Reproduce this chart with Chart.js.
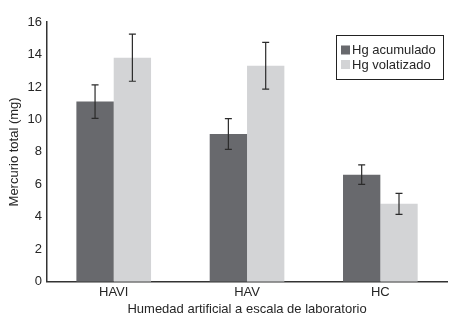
<!DOCTYPE html>
<html lang="es">
<head>
    <meta charset="UTF-8">
    <title>Mercurio total</title>
    <script src="https://cdn.jsdelivr.net/npm/chart.js"></script>
    <style>
        body {
            margin: 0;
            padding: 0;
            background: #fff;
        }
        #chart {
            display: block;
        }
    </style>
</head>
<body>
    <canvas id="chart" width="472" height="321"></canvas>
    <script>
        // data
        const categories = ['HAVI', 'HAV', 'HC'];
        const seriesNames = ['Hg acumulado', 'Hg volatizado'];
        const acumulado = [11.1, 9.1, 6.6];
        const acumuladoErr = [1.03, 0.95, 0.6];
        const volatizado = [13.8, 13.3, 4.8];
        const volatizadoErr = [1.45, 1.44, 0.65];
        const yTicks = [0, 2, 4, 6, 8, 10, 12, 14, 16];

        const textColor = '#262626';
        const fontFamily = '"Liberation Sans", Arial, sans-serif';

        // error bars drawn from the bar elements and y scale
        const errorBars = {
            id: 'errorBars',
            afterDatasetsDraw(chart) {
                const ctx = chart.ctx;
                const y = chart.scales.y;
                ctx.save();
                ctx.strokeStyle = '#2b2b2b';
                ctx.lineWidth = 1.2;
                chart.data.datasets.forEach((ds, i) => {
                    const meta = chart.getDatasetMeta(i);
                    meta.data.forEach((bar, j) => {
                        const v = ds.data[j], e = ds.errors[j];
                        const top = y.getPixelForValue(v + e);
                        const bottom = y.getPixelForValue(v - e);
                        const x = bar.x;
                        ctx.beginPath();
                        ctx.moveTo(x, top); ctx.lineTo(x, bottom);
                        ctx.moveTo(x - 3.5, top); ctx.lineTo(x + 3.5, top);
                        ctx.moveTo(x - 3.5, bottom); ctx.lineTo(x + 3.5, bottom);
                        ctx.stroke();
                    });
                });
                ctx.restore();
            }
        };

        // boxed legend inside the plot, top right
        const boxLegend = {
            id: 'boxLegend',
            afterDraw(chart) {
                const ctx = chart.ctx;
                const x0 = 336, y0 = 35, w = 107, h = 44;
                ctx.save();
                ctx.fillStyle = '#fff';
                ctx.fillRect(x0, y0, w, h);
                ctx.strokeStyle = '#222';
                ctx.lineWidth = 1;
                ctx.strokeRect(x0 + 0.5, y0 + 0.5, w, h);
                ctx.font = '13px ' + fontFamily;
                ctx.textBaseline = 'middle';
                chart.data.datasets.forEach((ds, i) => {
                    const cy = y0 + 15 + i * 14.5;
                    ctx.fillStyle = ds.backgroundColor;
                    ctx.fillRect(x0 + 5, cy - 4.5, 9, 9);
                    ctx.fillStyle = textColor;
                    ctx.fillText(ds.label, x0 + 16, cy + 0.5);
                });
                ctx.restore();
            }
        };

        new Chart(document.getElementById('chart'), {
            type: 'bar',
            data: {
                labels: categories,
                datasets: [
                    {
                        label: seriesNames[0],
                        data: acumulado,
                        errors: acumuladoErr,
                        backgroundColor: '#68696d'
                    },
                    {
                        label: seriesNames[1],
                        data: volatizado,
                        errors: volatizadoErr,
                        backgroundColor: '#d3d4d6'
                    }
                ]
            },
            options: {
                responsive: false,
                animation: false,
                devicePixelRatio: 1,
                categoryPercentage: 0.56,
                barPercentage: 1,
                layout: {
                    padding: { top: 22, right: 25, bottom: 4, left: 7 }
                },
                plugins: {
                    legend: { display: false },
                    tooltip: { enabled: false }
                },
                scales: {
                    x: {
                        grid: { display: false, drawTicks: false },
                        border: { color: '#333', width: 1.5 },
                        ticks: {
                            color: textColor,
                            padding: 3,
                            font: { family: fontFamily, size: 13 }
                        },
                        title: {
                            display: true,
                            text: 'Humedad artificial a escala de laboratorio',
                            color: textColor,
                            padding: { top: -2, bottom: 0 },
                            font: { family: fontFamily, size: 13 }
                        }
                    },
                    y: {
                        min: 0,
                        max: 16,
                        afterBuildTicks(axis) {
                            axis.ticks = yTicks.map(v => ({ value: v }));
                        },
                        grid: { display: false, drawTicks: false },
                        border: { color: '#333', width: 1.5 },
                        ticks: {
                            color: textColor,
                            padding: 5,
                            font: { family: fontFamily, size: 13 }
                        },
                        title: {
                            display: true,
                            text: 'Mercurio total (mg)',
                            color: textColor,
                            padding: { top: 0, bottom: 0 },
                            font: { family: fontFamily, size: 13 }
                        }
                    }
                }
            },
            plugins: [errorBars, boxLegend]
        });
    </script>
</body>
</html>
